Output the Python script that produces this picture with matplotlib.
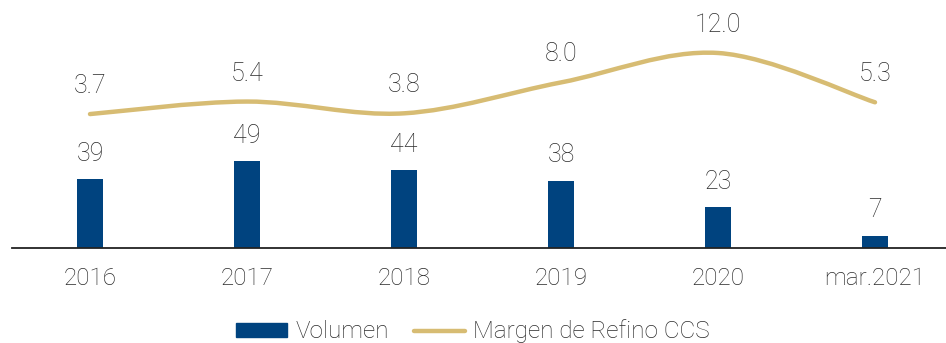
import numpy as np
import matplotlib.pyplot as plt
from matplotlib.path import Path
from matplotlib.patches import PathPatch, Patch
from matplotlib.lines import Line2D

plt.rcParams.update({'font.family': 'Roboto', 'font.weight': 'light', 'font.size': 18})

categories = ["2016", "2017", "2018", "2019", "2020", "mar.2021"]
volumen = [39, 49, 44, 38, 23, 7]
margen = [3.7, 5.4, 3.8, 8.0, 12.0, 5.3]

BLUE = "#00437f"
GOLD = "#d7bc73"
TEXT = "#2b2b2b"


def smooth_path(xs, ys, tension=1/6):
    # cubic bezier through every point (catmull-rom style control points)
    pts = np.column_stack([xs, ys]).astype(float)
    verts = [pts[0]]
    codes = [Path.MOVETO]
    n = len(pts)
    for i in range(n - 1):
        p0 = pts[max(i - 1, 0)]
        p1 = pts[i]
        p2 = pts[i + 1]
        p3 = pts[min(i + 2, n - 1)]
        c1 = p1 + (p2 - p0) * tension
        c2 = p2 - (p3 - p1) * tension
        verts += [c1, c2, p2]
        codes += [Path.CURVE4] * 3
    return Path(verts, codes)


fig = plt.figure(figsize=(9.46, 3.43), dpi=100)
ax = fig.add_axes([11.5 / 946, 95 / 343, 942 / 946, 248 / 343])
ax2 = ax.twinx()

x = np.arange(len(categories))

ax.bar(x, volumen, width=0.166, color=BLUE)
for xi, v in zip(x, volumen):
    ax.annotate(f"{v}", (xi, v), xytext=(0, 9.5), textcoords="offset points",
                ha="center", va="bottom", color=TEXT)

ax.set_xlim(-0.5, 5.5)
ax.set_ylim(0, 140)
ax.set_xticks(x)
ax.set_xticklabels(categories, color=TEXT, fontsize=17.5)
ax.tick_params(axis="x", length=0, pad=14)
ax.set_yticks([])
for s in ["top", "left", "right"]:
    ax.spines[s].set_visible(False)
ax.spines["bottom"].set_color("#222222")
ax.spines["bottom"].set_linewidth(1.3)

ax2.add_patch(PathPatch(smooth_path(x, margen), fill=False, edgecolor=GOLD,
                        lw=3.2, capstyle="round"))
for xi, v in zip(x, margen):
    ax2.annotate(f"{v:.1f}", (xi, v), xytext=(0, 11.5), textcoords="offset points",
                 ha="center", va="bottom", color=TEXT)
ax2.set_ylim(-14.5, 19.2)
ax2.set_yticks([])
for s in ["top", "left", "right", "bottom"]:
    ax2.spines[s].set_visible(False)

handles = [Patch(color=BLUE, label="Volumen"),
           Line2D([], [], color=GOLD, lw=3.2, solid_capstyle="round",
                  label="Margen de Refino CCS")]
fig.legend(handles=handles, loc="lower center", bbox_to_anchor=(0.5, -0.065),
           ncol=2, frameon=False, handlelength=2.1, handleheight=0.5,
           handletextpad=0.35, columnspacing=1.0, labelcolor=TEXT, fontsize=17.5)

fig.savefig("out.png", dpi=100)
